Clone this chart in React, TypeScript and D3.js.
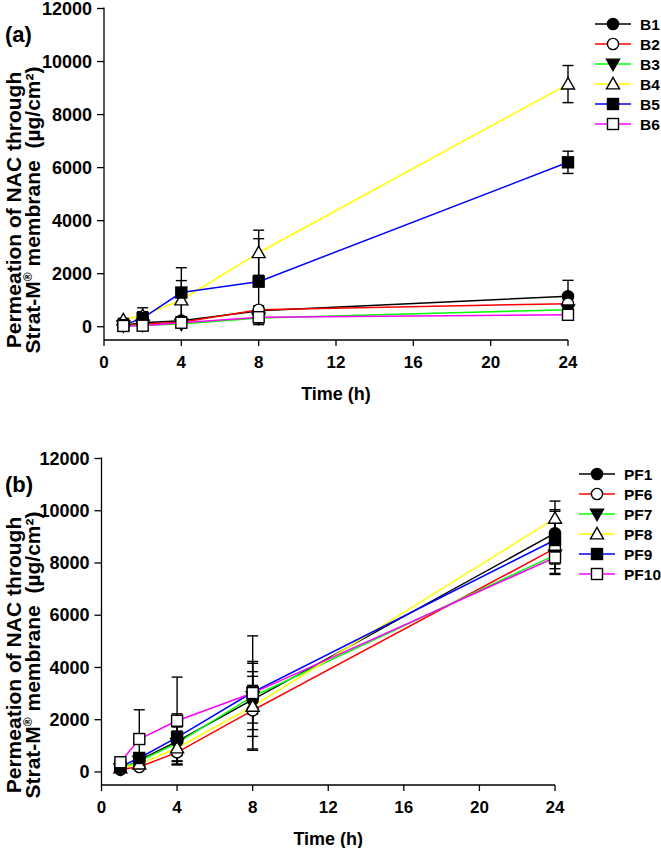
import React from "react";
import * as d3 from "d3";

const times = [1, 2, 4, 8, 24];
const xTicks = [0, 4, 8, 12, 16, 20, 24];
const yTicks = [0, 2000, 4000, 6000, 8000, 10000, 12000];

const namesA = ["B1", "B2", "B3", "B4", "B5", "B6"];
const B1 = [60, 150, 230, 600, 1150];
const B2 = [50, 100, 170, 640, 870];
const B3 = [30, 60, 100, 330, 640];
const B4 = [260, 420, 1010, 2790, 9150];
const B5 = [60, 325, 1290, 1700, 6200];
const B6 = [30, 40, 150, 360, 450];
const B1err = [40, 120, 150, 150, 600];
const B2err = [30, 60, 100, 150, 200];
const B3err = [20, 40, 80, 120, 150];
const B4err = [60, 150, 730, 850, 700];
const B5err = [40, 390, 935, 1620, 420];
const B6err = [20, 30, 100, 260, 100];

const namesB = ["PF1", "PF6", "PF7", "PF8", "PF9", "PF10"];
const PF1 = [90, 450, 1170, 2765, 9140];
const PF6 = [100, 190, 750, 2360, 8560];
const PF7 = [120, 420, 1100, 2890, 8300];
const PF8 = [150, 300, 917, 2510, 9710];
const PF9 = [200, 535, 1325, 3050, 8880];
const PF10 = [370, 1260, 1960, 3020, 8210];
const PF1err = [50, 150, 550, 550, 900];
const PF6err = [40, 100, 450, 1480, 600];
const PF7err = [50, 200, 700, 1270, 700];
const PF8err = [60, 150, 650, 1150, 660];
const PF9err = [60, 200, 900, 1180, 1100];
const PF10err = [80, 1120, 1670, 2190, 650];

const colors = ["#000000", "#ff0000", "#00ff00", "#ffff00", "#0000ff", "#ff00ff"];
const markers = ["circleF", "circleO", "triDownF", "triUpO", "squareF", "squareO"];

const FONT = "'Liberation Sans', Arial, sans-serif";

function Marker({ type, x, y }: { type: string; x: number; y: number }) {
  const fill = type.endsWith("F") ? "#000" : "#fff";
  const sw = 1.4;
  if (type.startsWith("circle")) {
    return <circle cx={x} cy={y} r={5.6} fill={fill} stroke="#000" strokeWidth={sw} />;
  }
  if (type.startsWith("square")) {
    return <rect x={x - 5.5} y={y - 5.5} width={11} height={11} fill={fill} stroke="#000" strokeWidth={sw} />;
  }
  if (type === "triDownF") {
    const s = 6.5;
    return <path d={`M${x - s},${y - s * 0.75}L${x + s},${y - s * 0.75}L${x},${y + s}Z`} fill={fill} stroke="#000" strokeWidth={sw} />;
  }
  const s = 6.5;
  return <path d={`M${x - s},${y + s * 0.75}L${x + s},${y + s * 0.75}L${x},${y - s}Z`} fill={fill} stroke="#000" strokeWidth={sw} />;
}

type PanelProps = {
  label: string;
  x0: number;
  x1: number;
  yTop: number;
  yBot: number;
  names: string[];
  series: number[][];
  errs: number[][];
  legX: number;
  legY: number;
  titleY: number;
};

function Panel(p: PanelProps) {
  const x = d3.scaleLinear().domain([0, 24]).range([p.x0, p.x1]);
  const y = d3.scaleLinear().domain([-500, 12000]).range([p.yBot, p.yTop]);
  const line = d3.line<number>().x((_, i) => x(times[i])).y((d) => y(d));
  const cx = (p.x0 + p.x1) / 2;
  return (
    <g fontFamily={FONT} fontWeight="bold">
      <line x1={p.x0} x2={p.x0} y1={p.yTop - 1} y2={p.yBot} stroke="#000" strokeWidth={1.3} />
      <line x1={p.x0} x2={p.x1} y1={p.yBot} y2={p.yBot} stroke="#000" strokeWidth={1.3} />
      {yTicks.map((t) => (
        <g key={"y" + t}>
          <line x1={p.x0 - 7} x2={p.x0} y1={y(t)} y2={y(t)} stroke="#000" strokeWidth={1.3} />
          <text x={p.x0 - 12} y={y(t)} dy="0.34em" textAnchor="end" fontSize={18}>
            {t}
          </text>
        </g>
      ))}
      {xTicks.map((t) => (
        <g key={"x" + t}>
          <line x1={x(t)} x2={x(t)} y1={p.yBot} y2={p.yBot + 6} stroke="#000" strokeWidth={1.3} />
          <text x={x(t)} y={p.yBot + 28} textAnchor="middle" fontSize={17}>
            {t}
          </text>
        </g>
      ))}
      <text x={cx} y={p.yBot + 60} textAnchor="middle" fontSize={18}>
        Time (h)
      </text>
      <text x={5} y={p.yTop + 33} fontSize={22}>
        {p.label}
      </text>
      <g transform={`translate(0,${p.titleY}) rotate(-90)`} fontSize={21}>
        <text x={0} y={21} textAnchor="middle">Permeation of NAC through</text>
        <text x={0} y={40} textAnchor="middle">
          Strat-M<tspan fontSize={12} dy={-8}>®</tspan>
          <tspan dy={8}>{"\u00a0membrane\u00a0\u00a0(µg/cm²)"}</tspan>
        </text>
      </g>
      {p.series.map((s, si) => (
        <path key={"s" + si} d={line(s) || ""} fill="none" stroke={colors[si]} strokeWidth={1.5} />
      ))}
      {p.series.map((s, si) => (
        <g key={"e" + si}>
          {s.map((v, i) => {
            const e = p.errs[si][i];
            const px = x(times[i]);
            return (
              <g key={i} stroke="#000" strokeWidth={1.4}>
                <line x1={px} x2={px} y1={y(v - e)} y2={y(v + e)} />
                <line x1={px - 5.5} x2={px + 5.5} y1={y(v + e)} y2={y(v + e)} />
                <line x1={px - 5.5} x2={px + 5.5} y1={y(v - e)} y2={y(v - e)} />
              </g>
            );
          })}
        </g>
      ))}
      {p.series.map((s, si) => (
        <g key={"m" + si}>
          {s.map((v, i) => (
            <Marker key={i} type={markers[si]} x={x(times[i])} y={y(v)} />
          ))}
        </g>
      ))}
      {p.names.map((n, i) => {
        const ly = p.legY + i * 20;
        return (
          <g key={n}>
            <line x1={p.legX} x2={p.legX + 36} y1={ly} y2={ly} stroke={colors[i]} strokeWidth={1.5} />
            <Marker type={markers[i]} x={p.legX + 18} y={ly} />
            <text x={p.legX + 45} y={ly} dy="0.36em" fontSize={15.5}>
              {n}
            </text>
          </g>
        );
      })}
    </g>
  );
}

export default function App() {
  return (
    <svg width={661} height={848} style={{ position: "absolute", left: 0, top: 0, background: "#fff" }}>
      <rect width={661} height={848} fill="#fff" />
      <Panel
        label="(a)"
        x0={104}
        x1={568}
        yTop={8.5}
        yBot={340}
        names={namesA}
        series={[B1, B2, B3, B4, B5, B6]}
        errs={[B1err, B2err, B3err, B4err, B5err, B6err]}
        legX={595}
        legY={24}
        titleY={210}
      />
      <Panel
        label="(b)"
        x0={101.5}
        x1={555}
        yTop={458.5}
        yBot={785}
        names={namesB}
        series={[PF1, PF6, PF7, PF8, PF9, PF10]}
        errs={[PF1err, PF6err, PF7err, PF8err, PF9err, PF10err]}
        legX={579}
        legY={474}
        titleY={655}
      />
    </svg>
  );
}
